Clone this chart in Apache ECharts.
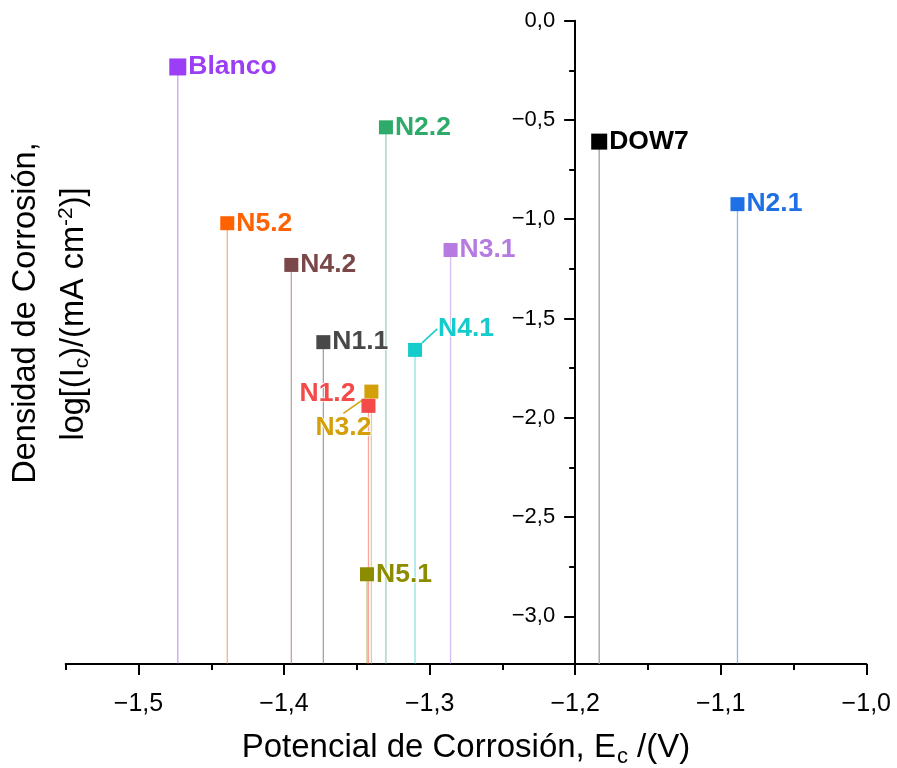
<!DOCTYPE html>
<html><head><meta charset="utf-8">
<script src="https://cdn.jsdelivr.net/npm/echarts@6/dist/echarts.min.js"></script>
<style>html,body{margin:0;padding:0;background:#fff}#c{width:897px;height:768px}</style>
</head><body><div id="c"></div>
<script>
// ---- data ----
const samples   = ['Blanco','N2.2','N5.2','N4.2','N1.1','N4.1','N3.2','N1.2','N5.1','N3.1','DOW7','N2.1'];
const ecorr     = [-1.473,-1.330,-1.439,-1.395,-1.373,-1.310,-1.340,-1.342,-1.343,-1.2856,-1.1835,-1.0885];
const logIcorr  = [-0.233,-0.537,-1.020,-1.230,-1.619,-1.658,-1.868,-1.940,-2.788,-1.155,-0.609,-0.924];
const xTicks      = [-1.5,-1.4,-1.3,-1.2,-1.1,-1.0];
const xMinorTicks = [-1.55,-1.45,-1.35,-1.25,-1.15,-1.05];
const yTicks      = [0,-0.5,-1.0,-1.5,-2.0,-2.5,-3.0];
const yMinorTicks = [-0.25,-0.75,-1.25,-1.75,-2.25,-2.75];
const X_MIN = -1.55, X_MAX = -1.0, Y_MIN = -3.24, Y_MAX = 0, Y_AXIS_AT = -1.2;

// ---- styles ----
const colors = {
  'Blanco':'#9B3EF5','N2.2':'#2EAA6B','N5.2':'#FF6200','N4.2':'#7A4848','N1.1':'#484848',
  'N4.1':'#14CCCC','N3.2':'#D4A00A','N1.2':'#F44A4A','N5.1':'#8C8C00','N3.1':'#B57BE0',
  'DOW7':'#000000','N2.1':'#1F6FE5'
};
const sizes = {'Blanco':17,'DOW7':16};
const specialLabel = {
  'N1.2': {position:'left', distance:6, offset:[0,-12]},
  'N3.2': {position:[7,43], align:'right', verticalAlign:'middle', labelLine:true},
  'N4.1': {position:[30,-14], align:'left', verticalAlign:'middle', labelLine:true}
};
const FONT = '"Liberation Sans", Arial, sans-serif';
const fmt = v => (Math.abs(v) < 1e-9 ? 0 : v).toFixed(1).replace('.', ',').replace('-', '\u2212');

function hexA(hex, a){
  const n = parseInt(hex.slice(1),16);
  return `rgba(${n>>16&255},${n>>8&255},${n&255},${a})`;
}

const series = [];
samples.forEach((s,i)=>{
  series.push({
    type:'line', silent:true, symbol:'none', z:1,
    data:[[ecorr[i], logIcorr[i]], [ecorr[i], Y_MIN]],
    lineStyle:{color: s==='DOW7' ? '#a0a0a0' : hexA(colors[s],0.5), width:1.3}
  });
});
series.push({
  type:'scatter', symbol:'rect', z:5,
  data: samples.map((s,i)=>{
    const sp = specialLabel[s] || {};
    const item = {
      name:s, value:[ecorr[i], logIcorr[i]],
      symbolSize: sizes[s] || 14,
      itemStyle:{color:colors[s], opacity:1},
      label:{
        show:true, formatter:'{b}', color:colors[s], fontSize:26.5, fontWeight:'bold', fontFamily:FONT,
        position: sp.position || 'right', distance: sp.distance != null ? sp.distance : 2,
        textBorderColor:'#fff', textBorderWidth:1.5
      }
    };
    if (sp.offset) item.label.offset = sp.offset;
    if (sp.align) item.label.align = sp.align;
    if (sp.verticalAlign) item.label.verticalAlign = sp.verticalAlign;
    if (sp.labelLine) item.labelLine = {show:true, length2:0, lineStyle:{color:colors[s], width:1.5}};
    return item;
  })
});

const axisLineStyle = {color:'#000', width:2};
const option = {
  animation:false,
  backgroundColor:'#fff',
  grid:{left:65.7, right:30.7, top:20.7, bottom:104, outerBoundsMode:'none', containLabel:false},
  xAxis:[
    {type:'value', min:X_MIN, max:X_MAX, position:'bottom',
     axisLine:{show:true, onZero:false, lineStyle:axisLineStyle},
     axisTick:{show:true, customValues:xTicks, length:11, lineStyle:axisLineStyle},
     axisLabel:{customValues:xTicks, formatter:fmt, fontSize:25, color:'#000', fontFamily:FONT, margin:28},
     splitLine:{show:false},
     name:'{a|Potencial de Corrosión, E}{sub|c}{a| /(V)}',
     nameLocation:'middle', nameGap:64,
     nameTextStyle:{fontFamily:FONT, color:'#000', fontSize:33,
       rich:{a:{fontSize:33, fontFamily:FONT, color:'#000'},
             sub:{fontSize:22, fontFamily:FONT, color:'#000', padding:[18,0,0,1]}}}
    },
    {type:'value', min:X_MIN, max:X_MAX, position:'bottom',
     axisLine:{show:false, onZero:false},
     axisTick:{show:true, customValues:xMinorTicks, length:6, lineStyle:axisLineStyle},
     axisLabel:{show:false}, splitLine:{show:false}}
  ],
  yAxis:[
    {type:'value', min:Y_MIN, max:Y_MAX, position:'left', offset:0,
     axisLine:{show:true, onZero:false, lineStyle:axisLineStyle},
     axisTick:{show:true, customValues:yTicks, length:11, lineStyle:axisLineStyle},
     axisLabel:{customValues:yTicks, formatter:fmt, fontSize:22, color:'#000', fontFamily:FONT, margin:20},
     splitLine:{show:false}},
    {type:'value', min:Y_MIN, max:Y_MAX, position:'left', offset:0,
     axisLine:{show:false, onZero:false},
     axisTick:{show:true, customValues:yMinorTicks, length:6, lineStyle:axisLineStyle},
     axisLabel:{show:false}, splitLine:{show:false}}
  ],
  graphic:[
    {type:'text', x:26, y:313, rotation:Math.PI/2,
     style:{text:'Densidad de Corrosión,', fontSize:32.5, fontFamily:FONT, fill:'#000',
            align:'center', verticalAlign:'middle'}},
    {type:'text', x:74, y:314, rotation:Math.PI/2,
     style:{text:'{a|log[(I}{sub|c}{a|)/(mA cm}{sup|-2}{a|)]}', fontSize:32.5, fontFamily:FONT, fill:'#000',
            align:'center', verticalAlign:'middle',
            rich:{a:{fontSize:32.5, fontFamily:FONT, fill:'#000'},
                  sub:{fontSize:21, fontFamily:FONT, fill:'#000', padding:[16,0,0,0]},
                  sup:{fontSize:21, fontFamily:FONT, fill:'#000', padding:[0,0,16,0]}}}}
  ],
  series
};

const chart = echarts.init(document.getElementById('c'), null, {renderer:'canvas'});
chart.setOption(option);
const px = chart.convertToPixel({xAxisIndex:0}, Y_AXIS_AT);
const p0 = chart.convertToPixel({xAxisIndex:0}, X_MIN);
const off = -(px - p0);
chart.setOption({yAxis:[{offset:off},{offset:off}]});
</script></body></html>
